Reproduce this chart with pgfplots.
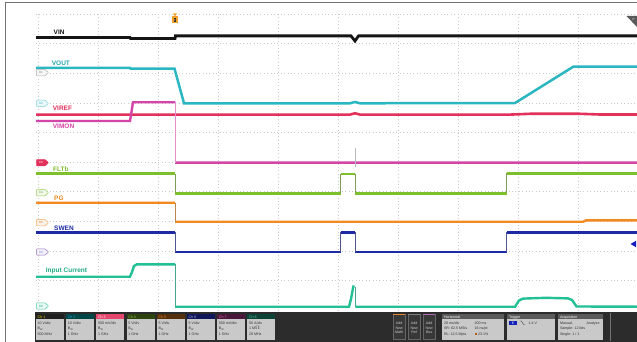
\documentclass[border=0pt]{standalone}
\usepackage{fontspec}
\setmainfont{Liberation Sans}
\usepackage{pgfplots}
\pgfplotsset{compat=1.18}

\definecolor{vinc}{HTML}{151515}
\definecolor{voutc}{HTML}{2BB7C1}
\definecolor{virefc}{HTML}{E2325C}
\definecolor{vimonc}{HTML}{D345A8}
\definecolor{fltc}{HTML}{7EBF2E}
\definecolor{pgc}{HTML}{F28A22}
\definecolor{swenc}{HTML}{1C2AA3}
\definecolor{icurc}{HTML}{22C094}
\definecolor{gridc}{HTML}{CACACA}
\definecolor{barbg}{HTML}{2C2C2C}
\definecolor{bodyc}{HTML}{C9C9C9}
\definecolor{bodytxt}{HTML}{303030}
\definecolor{hdrgray}{HTML}{5A5A5A}
\definecolor{trigc}{HTML}{F2A02A}

\newcommand{\tinyf}{\fontsize{3.6}{4}\selectfont}
\newcommand{\tagf}{\fontsize{3}{3}\selectfont}
\newcommand{\lblf}{\fontsize{6.5}{7}\selectfont\bfseries}

% channel tag on the left edge: y, draw, fill, text colour, text
\newcommand{\ctag}[5]{%
  \filldraw[draw=#2, fill=#3, line width=0.5pt, rounded corners=0.6pt]
    (36.5,{#1-3.2}) -- (45,{#1-3.2}) -- (48.5,#1) -- (45,{#1+3.2}) -- (36.5,{#1+3.2}) -- cycle;
  \node[text=#4, font=\tagf, inner sep=0] at (41,#1) {#5};
}
% channel box in the status bar: x, header colour, title colour, title, three lines
\newcommand{\chbox}[7]{%
  \fill[#2] (#1,314) rectangle ({#1+28},319.3);
  \fill[bodyc] (#1,319.3) rectangle ({#1+28},339.5);
  \node[anchor=base west, text=#3, font=\tinyf, inner sep=0] at ({#1+1.5},318.2) {#4};
  \node[anchor=base west, text=bodytxt, font=\tinyf, inner sep=0] at ({#1+1.5},324.5) {#5};
  \node[anchor=base west, text=bodytxt, font=\tinyf, inner sep=0] at ({#1+1.5},329.5) {#6};
  \node[anchor=base west, text=bodytxt, font=\tinyf, inner sep=0] at ({#1+1.5},335.3) {#7};
}
% add-new button: x, strip colour, third word
\newcommand{\addbtn}[3]{%
  \filldraw[fill=black!78, draw=black!60, line width=0.3pt] (#1,314) rectangle ({#1+11.7},339);
  \fill[#2] (#1,314) rectangle ({#1+11.7},315.3);
  \node[anchor=base, text=black!20, font=\tinyf, inner sep=0] at ({#1+5.85},324.5) {Add};
  \node[anchor=base, text=black!20, font=\tinyf, inner sep=0] at ({#1+5.85},329) {New};
  \node[anchor=base, text=black!20, font=\tinyf, inner sep=0] at ({#1+5.85},333.5) {#3};
}
% info box: x0, x1, header
\newcommand{\infobox}[3]{%
  \fill[hdrgray] (#1,314) rectangle (#2,319.3);
  \fill[bodyc] (#1,319.3) rectangle (#2,339.5);
  \node[anchor=base west, text=white, font=\tinyf, inner sep=0] at ({#1+1.5},318.2) {#3};
}

\begin{document}
\begin{tikzpicture}
\begin{axis}[
  scale only axis, width=637pt, height=342pt,
  xmin=0, xmax=637, ymin=0, ymax=342, y dir=reverse,
  hide axis, clip=true,
  unbounded coords=jump,
]
% frame
\fill[white] (0,0) rectangle (637,342);
\draw[black!55, line width=1pt] (5,342) -- (5,3) -- (640,3);

% graticule
\pgfplotsinvokeforeach{38,98,158,218,278,338,398,458,518,578}{
  \draw[gridc, line width=0.5pt, dash pattern=on 0.6pt off 2.8pt] (#1,14) -- (#1,311);
}
\pgfplotsinvokeforeach{14,43.6,73.2,102.8,132.4,162,191.6,221.2,250.8,280.4}{
  \draw[gridc, line width=0.5pt, dash pattern=on 0.6pt off 2.8pt] (36,#1) -- (637,#1);
}

% VIN
\addplot[vinc, line width=2.8pt] coordinates {(36,37.6)(130,37.6)(130.5,38.6)(175,38.6)(175.4,35.9)(351,35.9)(355,41)(358.5,35.9)(637,35.9)};
% VOUT
\addplot[voutc, line width=2.5pt] coordinates {(36,68)(130,68)(130.5,68.6)(174.5,68.6)(184,103.3)(350,103.3)(355,102)(360,103.3)(515,103)(573.3,66.7)(637,66.7)};
% VIREF
\addplot[virefc, line width=2.6pt] coordinates {(36,114.6)(350,114.6)(355,113.3)(360,114.6)(510,114.6)(530,113.8)(580,113.8)(600,114.5)(637,114.5)};
% VIMON
\addplot[vimonc, line width=2.4pt] coordinates {(36,121)(130,121)(133,102.3)(175,102.3)(175,nan)(175,162.6)(637,162.6)};
\addplot[vimonc!60, line width=0.6pt] coordinates {(175,102.3)(175,162.6)};
\addplot[gray!55, line width=0.5pt] coordinates {(355,148)(355,166.5)};
% FLTb
\addplot[fltc, line width=2.4pt] coordinates {(36,173.5)(175,173.5)(175,nan)(175,193.3)(340.7,193.3)(340.7,nan)(340.7,174)(355.3,174)(355.3,nan)(355.3,193.3)(506.7,193.3)(506.7,nan)(506.7,173.3)(637,173.3)};
\addplot[fltc!50!gray, line width=0.6pt] coordinates {(175,173.5)(175,193.3)(200,nan)(340.7,193.3)(340.7,174)(345,nan)(355.3,174)(355.3,193.3)(400,nan)(506.7,193.3)(506.7,173.3)};
% PG
\addplot[pgc, line width=2.4pt] coordinates {(36,202.7)(175,202.7)(175,nan)(175,221.7)(583,221.7)(586,220.4)(637,220.4)};
\addplot[pgc!50!gray, line width=0.6pt] coordinates {(175,202.7)(175,221.7)};
% SWEN
\addplot[swenc, line width=2.6pt] coordinates {(36,232.3)(175,232.3)(175,nan)(175,252)(340.7,252)(340.7,nan)(340.7,232.3)(355.3,232.3)(355.3,nan)(355.3,252)(506.7,252)(506.7,nan)(506.7,232.3)(637,232.3)};
\addplot[swenc!50!gray, line width=0.6pt] coordinates {(175,232.3)(175,252)(200,nan)(340.7,252)(340.7,232.3)(345,nan)(355.3,232.3)(355.3,252)(400,nan)(506.7,252)(506.7,232.3)};
% Input current
\addplot[icurc, line width=2.4pt] coordinates {(36,276.7)(130,276.7)(132,272)(134,266)(137,264.3)(175,264.3)(175,nan)(175,306.7)(349,306.7)(351,299)(353.3,286.5)(354.6,286.5)(354.6,nan)(355.3,306.7)(515,306.7)(519,300.5)(523,298.6)(546,297.8)(568,298.4)(572,300)(576.5,306.5)(637,306.7)};
\addplot[icurc!60!gray, line width=0.6pt] coordinates {(175,264.3)(175,306.7)(200,nan)(355,286.5)(355,306.7)};

% trace labels
\node[anchor=base west, inner sep=0, font=\lblf, text=vinc] at (53.5,34.3) {VIN};
\node[anchor=base west, inner sep=0, font=\lblf, text=voutc!90!black] at (51.7,65.7) {VOUT};
\node[anchor=base west, inner sep=0, font=\lblf, text=virefc] at (52.7,110.7) {VIREF};
\node[anchor=base west, inner sep=0, font=\lblf, text=vimonc] at (52.7,129) {VIMON};
\node[anchor=base west, inner sep=0, font=\lblf, text=fltc] at (53,171.5) {FLTb};
\node[anchor=base west, inner sep=0, font=\lblf, text=pgc] at (54,200.7) {PG};
\node[anchor=base west, inner sep=0, font=\lblf, text=swenc] at (54,230.3) {SWEN};
\node[anchor=base west, inner sep=0, font=\lblf, text=icurc!90!black] at (45.7,272.8) {Input Current};

% channel tags
\ctag{72.7}{gray!60}{gray!8}{gray}{C1}
\ctag{103.3}{voutc!60}{voutc!10}{voutc}{C2}
\ctag{162.7}{virefc}{virefc}{white}{C3}
\ctag{192.7}{fltc!80}{fltc!10}{fltc!80!black}{C4}
\ctag{222.7}{pgc!70}{pgc!10}{pgc!80!black}{C5}
\ctag{252}{swenc!40!violet!60}{swenc!6}{swenc!60}{C6}
\ctag{306}{icurc!80}{icurc!10}{icurc!80!black}{C8}

% trigger marker and side markers
\fill[trigc] (173,13.5) -- (177,13.5) -- (175,16.3) -- cycle;
\fill[trigc] (172.3,16.5) rectangle (177.7,23.5);
\fill[black!80] (173.6,18) rectangle (176.4,22.3);
\node[font=\fontsize{2.8}{3}\selectfont\bfseries, text=trigc, inner sep=0] at (175,20.2) {T};
\fill[black!65] (626.5,16) -- (637,16) -- (637,27) -- cycle;
\node[font=\fontsize{3}{3}\selectfont, text=white, inner sep=0] at (633.5,19.5) {P};
\fill[swenc!70!blue] (630.5,244) -- (636,240.8) -- (636,247.2) -- cycle;

% status bar
\fill[barbg] (35,312) rectangle (637,342);
\chbox{36}{black!88}{yellow!80!orange}{Ch 1}{10 V/div}{B\textsubscript{W}}{500 MHz}
\chbox{66.2}{teal!55!black}{cyan!70!teal}{Ch 2}{10 V/div}{B\textsubscript{W}}{1 GHz}
\chbox{96.4}{virefc!90}{white}{Ch 3}{500 mV/div}{B\textsubscript{W}}{1 GHz}
\chbox{126.6}{fltc!35!black}{fltc!90!white}{Ch 4}{5 V/div}{B\textsubscript{W}}{1 GHz}
\chbox{156.8}{pgc!35!black}{pgc}{Ch 5}{5 V/div}{B\textsubscript{W}}{1 GHz}
\chbox{187}{swenc!55!black}{swenc!40!white}{Ch 6}{5 V/div}{B\textsubscript{W}}{1 GHz}
\chbox{217.2}{vimonc!35!black}{vimonc!80!white}{Ch 7}{500 mV/div}{B\textsubscript{W}}{1 GHz}
\chbox{247.4}{icurc!35!black}{icurc!80!white}{Ch 8}{50 A/div}{1 M$\Omega$}{20 MHz}

\addbtn{393.3}{pgc!70!brown}{Math}
\addbtn{408.3}{gray}{Ref}
\addbtn{423.3}{violet!60}{Bus}

\infobox{442.3}{504}{Horizontal}
\node[anchor=base west, text=bodytxt, font=\tinyf, inner sep=0] at (443.8,324.5) {20 ms/div};
\node[anchor=base west, text=bodytxt, font=\tinyf, inner sep=0] at (474.5,324.5) {200 ms};
\node[anchor=base west, text=bodytxt, font=\tinyf, inner sep=0] at (443.8,329.5) {SR: 62.5 MS/s};
\node[anchor=base west, text=bodytxt, font=\tinyf, inner sep=0] at (474.5,329.5) {16 ns/pt};
\node[anchor=base west, text=bodytxt, font=\tinyf, inner sep=0] at (443.8,335.3) {RL: 12.5 Mpts};
\fill[pgc!70!black] (474.5,332.5) rectangle (476.7,334.7);
\node[anchor=base west, text=bodytxt, font=\tinyf, inner sep=0] at (478,335.3) {23.1\%};

\infobox{507.3}{555}{Trigger}
\fill[swenc!80!blue] (508.5,320.8) rectangle (517.3,325);
\node[text=white, font=\tinyf, inner sep=0] at (512.9,323) {6};
\draw[bodytxt, line width=0.35pt] (520,321) -- (521.5,321) -- (523.5,324.5) -- (525,324.5);
\node[anchor=base west, text=bodytxt, font=\tinyf, inner sep=0] at (528.3,324.5) {1.4 V};

\infobox{558.3}{603.3}{Acquisition}
\node[anchor=base west, text=bodytxt, font=\tinyf, inner sep=0] at (559.8,324.5) {Manual,};
\node[anchor=base west, text=bodytxt, font=\tinyf, inner sep=0] at (586.5,324.5) {Analyze};
\node[anchor=base west, text=bodytxt, font=\tinyf, inner sep=0] at (559.8,329.5) {Sample: 12 bits};
\node[anchor=base west, text=bodytxt, font=\tinyf, inner sep=0] at (559.8,335.3) {Single: 1 / 1};
\draw[black!55, line width=0.4pt] (610,313) -- (610,341);
\end{axis}
\end{tikzpicture}
\end{document}
